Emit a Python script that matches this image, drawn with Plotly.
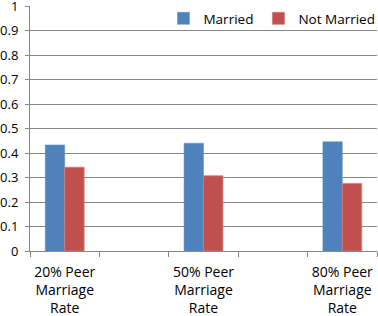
import plotly.graph_objects as go

categories = ["20% Peer<br>Marriage<br>Rate", " ", "50% Peer<br>Marriage<br>Rate", "  ", "80% Peer<br>Marriage<br>Rate"]
married = [0.433, None, 0.44, None, 0.446]
not_married = [0.342, None, 0.307, None, 0.276]
y_ticks = [0, 0.1, 0.2, 0.3, 0.4, 0.5, 0.6, 0.7, 0.8, 0.9, 1]
y_tick_labels = ["0", "0.1", "0.2", "0.3", "0.4", "0.5", "0.6", "0.7", "0.8", "0.9", "1"]

font = "Open Sans"
fig = go.Figure()
fig.add_trace(go.Bar(x=categories, y=married, name="Married",
                     marker=dict(color="#4F81BD", line=dict(color="#5B8CCB", width=0.5))))
fig.add_trace(go.Bar(x=categories, y=not_married, name="Not Married",
                     marker=dict(color="#C0504D", line=dict(color="#D87A78", width=0.8))))

fig.update_layout(
    width=378, height=316,
    margin=dict(l=30, r=1, t=6, b=65, autoexpand=False),
    paper_bgcolor="white", plot_bgcolor="white",
    barmode="group", bargap=0.44, bargroupgap=0,
    font=dict(family=font, size=13, color="black"),
    showlegend=True,
    legend=dict(orientation="h", x=1.01, y=1.012, xanchor="right", yanchor="top",
                bgcolor="rgba(0,0,0,0)", font=dict(family=font, size=13.5, color="black"),
                traceorder="normal"),
    xaxis=dict(type="category", tickson="boundaries", ticks="outside", ticklen=5,
               tickangle=0, automargin=False, ticklabelstandoff=8,
               tickcolor="#868686", showline=True, linecolor="#868686", linewidth=1,
               showgrid=False, tickfont=dict(family=font, size=14, color="black")),
    yaxis=dict(range=[0, 1], tickvals=y_ticks, ticktext=y_tick_labels,
               ticks="outside", ticklen=4, tickcolor="#868686", automargin=False,
               ticklabeloverflow="allow", ticklabelstandoff=4,
               showline=True, linecolor="#868686", linewidth=1,
               showgrid=True, gridcolor="#868686", gridwidth=1, zeroline=False,
               tickfont=dict(family=font, size=13, color="black")),
)

fig.write_html("out.html", config={"displayModeBar": False},
               post_script="document.body.style.margin='0';")
